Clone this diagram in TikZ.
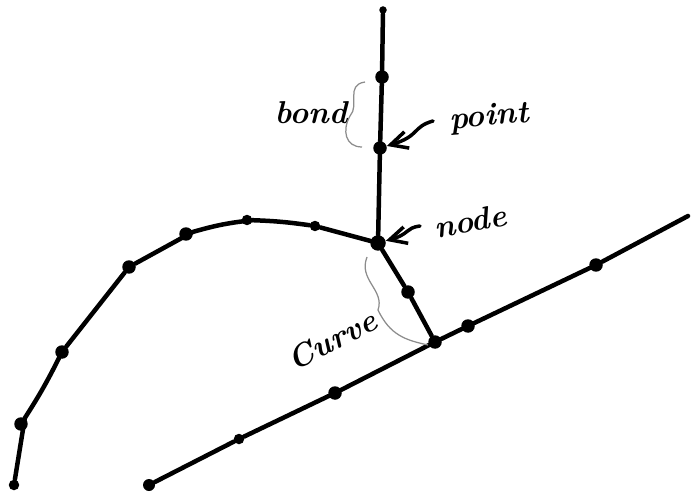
\documentclass[tikz,border=0pt]{standalone}
\usetikzlibrary{arrows.meta}
\begin{document}
\begin{tikzpicture}[x=0.02cm, y=-0.02cm, >={Straight Barb[length=3.4mm,width=3.4mm]},
        pt/.style={circle, fill=black, inner sep=0pt, minimum size=2.7mm},
        smallpt/.style={circle, fill=black, inner sep=0pt, minimum size=2.1mm},
        bond/.style={line width=0.9mm, line join=round, line cap=round},
        pointer/.style={->, line width=0.7mm, line cap=round},
        brace/.style={black!45, line width=0.25mm},
        label/.style={font=\bfseries\itshape\fontsize{18}{18}\selectfont, inner sep=0pt}
    ]
        \useasboundingbox (0,0) rectangle (692,496);

        % Vertical branch
        \node (top) [smallpt, minimum size=1.5mm] at (383,10) {};
        \node (p1) [pt] at (382,77) {};
        \node (p2) [pt] at (380,148) {};
        \node (mid) [pt, minimum size=3.1mm] at (378,243) {};

        % Left curve
        \node (c1) [smallpt] at (315,226) {};
        \node (c2) [smallpt] at (247,220) {};
        \node (c3) [pt] at (186,234) {};
        \node (c4) [pt] at (129,267) {};
        \node (c5) [pt] at (62,352) {};
        \node (c6) [pt] at (21,424) {};
        \node (c7) [smallpt] at (14,485) {};

        % Straight line
        \node (l0) [smallpt, minimum size=2.4mm] at (149,485) {};
        \node (l1) [smallpt] at (239,439) {};
        \node (l2) [pt] at (335,393) {};
        \node (l3) [pt] at (435,342) {};
        \node (l4) [pt] at (468,326) {};
        \node (l5) [pt] at (596,265) {};
        \coordinate (l6) at (688,216);

        % Link between them
        \node (s1) [pt] at (408,292) {};

        % Bonds
        \draw[bond] (top) -- (p1) -- (p2) -- (mid);
        \draw[bond] (mid) -- (c1) to[bend right=3] (c2) to[bend right=5] (c3) -- (c4) -- (c5) to[bend left=3] (c6) -- (c7);
        \draw[bond] (mid) -- (s1) -- (l3);
        \draw[bond] (l0) -- (l1) -- (l2) -- (l3) -- (l4) -- (l5) -- (l6);

        % Labels
        \node (bondlab) [label] at (311,113) {bond};
        \node (pointlab) [label, rotate=5] at (489,118) {point};
        \node (nodelab) [label, rotate=10] at (470,221) {node};
        \node (curvelab) [label, rotate=27] at (332,340) {Curve};

        % Pointers
        \coordinate (pointtail) at (433,121);
        \coordinate (nodetail) at (420,226);
        \draw[pointer] (pointtail) .. controls (412,127) and (420,136) .. (p2);
        \draw[pointer] (nodetail) .. controls (405,228) and (410,234) .. (mid);

        % Braces
        \coordinate (b1) at (365,82);
        \coordinate (b2) at (350,116);
        \coordinate (b3) at (362,147);
        \draw[brace] (b1) .. controls (345,85) and (360,105) .. (b2) .. controls (342,130) and (345,147) .. (b3);
        \coordinate (k1) at (367,257);
        \coordinate (k2) at (378,310);
        \coordinate (k3) at (428,345);
        \draw[brace] (k1) .. controls (358,280) and (385,290) .. (k2) .. controls (390,335) and (405,340) .. (k3);
    \end{tikzpicture}
\end{document}
